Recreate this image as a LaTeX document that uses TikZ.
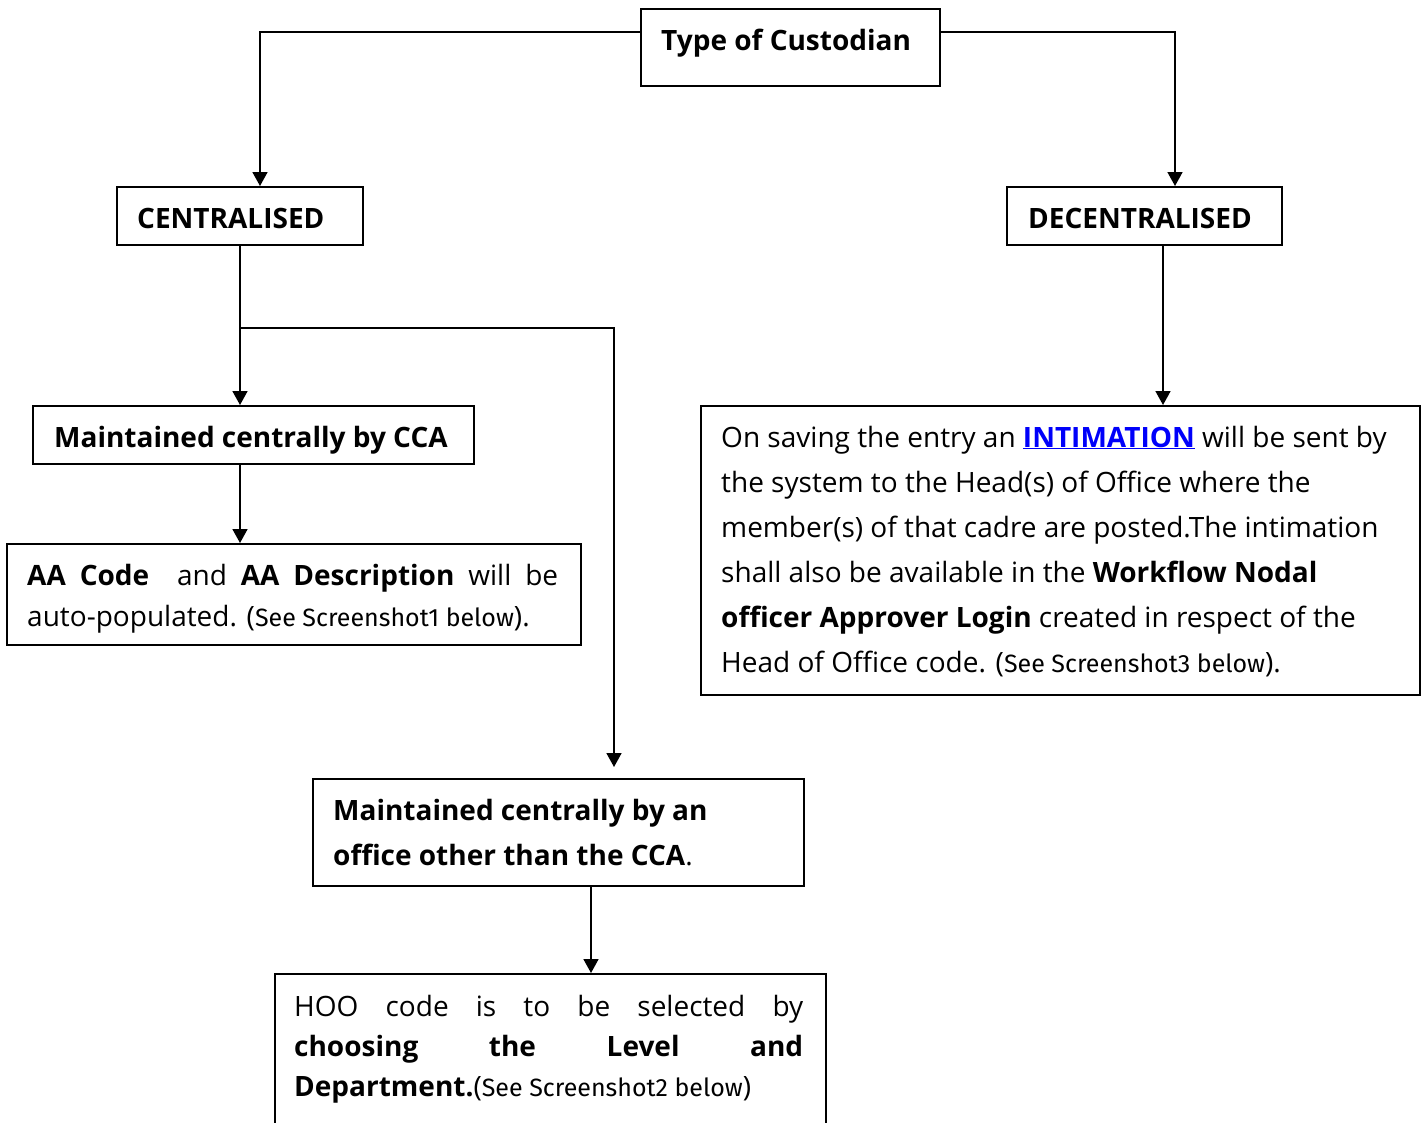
\documentclass[tikz,border=0pt]{standalone}
\usepackage{fontspec}
\setmainfont{Open Sans}
\newfontfamily\notefont{Fira Sans}
\usetikzlibrary{arrows.meta}
\definecolor{linkblue}{RGB}{0,0,250}
% small informal font used for the screenshot references
\newcommand{\scrref}[1]{{\notefont\fontsize{25}{25}\selectfont #1}}

\begin{document}
\fontsize{28}{34}\selectfont
\begin{tikzpicture}[x=1pt,y=-1pt,
  box/.style={draw, line width=1.7pt, inner sep=0pt, anchor=north west},
  txt/.style={anchor=base west, inner sep=0pt},
  link/.style={line width=1.7pt, line join=miter, -{Triangle[width=15pt,length=14pt]}}]

\useasboundingbox (0,0) rectangle (1421,1122);

% frames
\node[box, minimum width=299, minimum height=77]  (type)   at (640,8)   {};
\node[box, minimum width=246, minimum height=58]  (cen)    at (116,186) {};
\node[box, minimum width=275, minimum height=58]  (dec)    at (1006,186) {};
\node[box, minimum width=441, minimum height=58]  (cca)    at (32,405)  {};
\node[box, minimum width=574, minimum height=101] (aa)     at (6,543)   {};
\node[box, minimum width=719, minimum height=289] (info)   at (700,405) {};
\node[box, minimum width=491, minimum height=107] (office) at (312,778) {};
\node[box, minimum width=551, minimum height=160] (hoo)    at (274,973) {};

% texts
\node[txt] (typeT) at (661,50) {\bfseries Type of Custodian};
\node[txt] (cenT) at (137,228) {\bfseries CENTRALISED};
\node[txt] (decT) at (1028,228) {\bfseries DECENTRALISED};
\node[txt] (ccaT) at (54,447) {\bfseries Maintained centrally by CCA};

\node[txt] (aaT) at (27,585) {\parbox[t]{531pt}{\fontsize{28}{41}\selectfont
  \makebox[\linewidth][s]{\textbf{AA Code}\ \ and \textbf{AA Description} will be}\\
  auto-populated. (\scrref{See Screenshot1 below}).}};

\node[txt] (infoT) at (721,447) {\parbox[t]{1000pt}{\fontsize{28}{45}\selectfont\raggedright
  On saving the entry an \textcolor{linkblue}{\textbf{\underline{INTIMATION}}} will be sent by\\
  the system to the Head(s) of Office where the\\
  member(s) of that cadre are posted.The intimation\\
  shall also be available in the \textbf{Workflow Nodal}\\
  \textbf{officer Approver Login} created in respect of the\\
  Head of Office code. (\scrref{See Screenshot3 below}).}};

\node[txt] (officeT) at (333,820) {\parbox[t]{1000pt}{\fontsize{28}{45}\selectfont\raggedright
  \textbf{Maintained centrally by an}\\
  \textbf{office other than the CCA}.}};

\node[txt] (hooT) at (294,1016) {\parbox[t]{509pt}{\fontsize{28}{40}\selectfont
  \makebox[\linewidth][s]{HOO code is to be selected by}\\
  \makebox[\linewidth][s]{\textbf{choosing the Level and}}\\
  \textbf{Department.}(\scrref{See Screenshot2 below})}};

% connectors
\coordinate (tL) at (260,32);
\coordinate (tR) at (1175,32);
\coordinate (fork) at (240,328);
\coordinate (forkR) at (614,328);
\coordinate (dx) at (1163,0);
\coordinate (ox) at (591,0);

\draw[link] (type.west |- tL) -- (tL) -- (tL |- cen.north);
\draw[link] (type.east |- tR) -- (tR) -- (tR |- dec.north);
\draw[link] (cen.south -| fork) -- (cca.north -| fork);
\draw[link, shorten >=11pt] (fork) -- (forkR) -- (forkR |- office.north);
\draw[link] (cca.south -| fork) -- (aa.north -| fork);
\draw[link] (dec.south -| dx) -- (info.north -| dx);
\draw[link] (office.south -| ox) -- (hoo.north -| ox);
\end{tikzpicture}
\end{document}
